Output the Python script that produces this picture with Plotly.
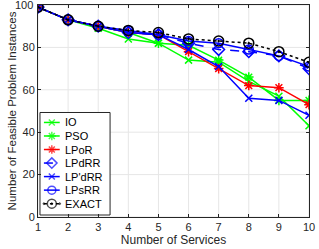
import plotly.graph_objects as go

services = [1, 2, 3, 4, 5, 6, 7, 8, 9, 10]
io = [99, 93, 89, 84, 82, 74, 73, 64, 57, 43]
pso = [99, 93, 90, 87, 82, 81, 74, 66, 55, 55]
lpor = [99, 93, 90, 87, 86, 78, 70, 62, 61, 53]
lpdrr = [99, 93, 90, 87, 86, 82, 79, 78, 76, 70]
lpprdrr = [99, 93, 90, 87, 86, 79, 71, 56, 55, 48]
lpsrr = [99, 93, 90, 88, 86, 83, 82, 79, 76, 71]
exact = [99, 93, 90, 88, 87, 84, 83, 82, 78, 73]
yticks = [0, 20, 40, 60, 80, 100]

series = [
    ("IO", io, "#00ff00", "solid", "x-thin-open", 7),
    ("PSO", pso, "#00ff00", "solid", "asterisk-open", 8),
    ("LPoR", lpor, "#ff0000", "solid", "asterisk-open", 8),
    ("LPdRR", lpdrr, "#0000ff", "dash", "diamond-open", 9),
    ("LP'dRR", lpprdrr, "#0000ff", "solid", "x-thin-open", 7),
    ("LPsRR", lpsrr, "#0000ff", "solid", "circle-open", 9),
    ("EXACT", exact, "#000000", "dot", "circle-open-dot", 10),
]

FONT = "Liberation Sans, Arial, sans-serif"
PW, PH = 274.5, 213.0  # plot area size in pixels
GRID = "#e6e6e6"
fig = go.Figure()

# gridlines as shapes so the legend box can cover them
for xv in services:
    fig.add_shape(type="line", xref="x", yref="y domain", x0=xv, x1=xv, y0=0, y1=1,
                  line=dict(color=GRID, width=1), layer="below")
for yv in yticks:
    fig.add_shape(type="line", xref="x domain", yref="y", x0=0, x1=1, y0=yv, y1=yv,
                  line=dict(color=GRID, width=1), layer="below")

for name, vals, color, dash, sym, size in series:
    fig.add_trace(go.Scatter(
        x=services, y=vals, name=name, mode="lines+markers",
        line=dict(color=color, width=1.5, dash=dash),
        marker=dict(symbol=sym, size=size, color=color,
                    line=dict(color=color, width=1.5)),
        showlegend=False,
    ))

# custom compact legend in a hidden overlay axis measured in plot pixels
leg_x0, leg_x1, leg_y0, leg_y1 = 2, 73, 108, 211
row_h = 13.6
first_row = 118
fig.add_shape(type="rect", xref="x domain", yref="y domain",
              x0=leg_x0 / PW, x1=leg_x1 / PW,
              y0=1 - leg_y1 / PH, y1=1 - leg_y0 / PH,
              line=dict(color="#262626", width=1),
              fillcolor="white", layer="below")
for i, (name, vals, color, dash, sym, size) in enumerate(series):
    yy = first_row + i * row_h
    fig.add_trace(go.Scatter(
        x=[6, 14, 22], y=[yy, yy, yy], mode="lines+markers",
        line=dict(color=color, width=1.5, dash=dash),
        marker=dict(symbol=sym, size=[0, size - 1, 0], color=color,
                    line=dict(color=color, width=1.5)),
        xaxis="x2", yaxis="y2", showlegend=False, hoverinfo="skip",
    ))
    fig.add_annotation(x=25, y=yy, xref="x2", yref="y2", text=name,
                       showarrow=False, xanchor="left", yanchor="middle",
                       font=dict(family=FONT, size=11, color="#000000"))

# the top tick label is written as an annotation so it is never dropped
top_tick = yticks[-1]
fig.add_annotation(x=0, y=top_tick, xref="x domain", yref="y", text=str(top_tick),
                   showarrow=False, xanchor="right", yanchor="middle", xshift=-3,
                   font=dict(family=FONT, size=11, color="#262626"))

axis_common = dict(
    showline=True, linecolor="#262626", linewidth=1, mirror="ticks",
    ticks="inside", ticklen=3, tickcolor="#262626",
    showgrid=False, zeroline=False, ticklabeloverflow="allow",
    tickfont=dict(family=FONT, size=11, color="#262626"),
)

fig.update_layout(
    xaxis=dict(range=[1, 10], tickvals=services, **axis_common,
               title=dict(text="Number of Services", standoff=2,
                          font=dict(family=FONT, size=12, color="#262626"))),
    yaxis=dict(range=[0, 100], tickvals=yticks,
               ticktext=[str(v) if v != top_tick else "" for v in yticks], **axis_common,
               title=dict(text="Number of Feasible Problem Instances", standoff=3,
                          font=dict(family=FONT, size=11.5, color="#262626"))),
    xaxis2=dict(range=[0, PW], overlaying="x", visible=False, fixedrange=True),
    yaxis2=dict(range=[PH, 0], overlaying="y", visible=False, fixedrange=True),
    width=319, height=249,
    margin=dict(l=38, r=7, t=4, b=32),
    plot_bgcolor="white", paper_bgcolor="white",
    showlegend=False,
)

fig.write_html("out.html", config={"displayModeBar": False},
               post_script="document.body.style.margin='0px';")
